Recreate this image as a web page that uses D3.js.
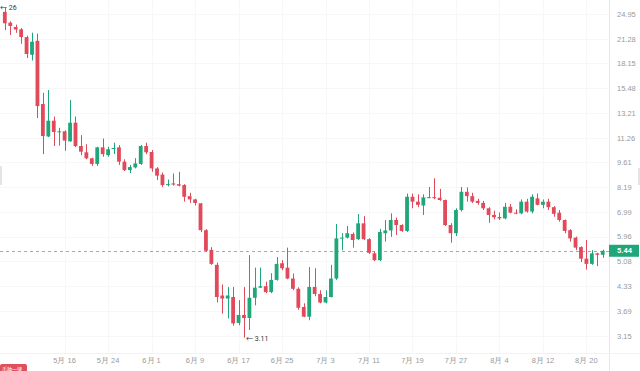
<!DOCTYPE html>
<html>
<head>
<meta charset="utf-8">
<script src="https://cdn.jsdelivr.net/npm/d3@7"></script>
<style>
  body { margin: 0; background: #fff; }
  svg { display: block; font-family: Roboto, "Noto Sans CJK SC", sans-serif; }
</style>
</head>
<body>
<script>
// width, height
var w = 640;
var h = 371;
var plotRight = 609;
var plotBottom = 353;

// daily candles, first one is May 5
var startDate = new Date(2024, 4, 5);
var open  = [25.3,23.6,22.95,22.6,21.5,19.2,21.0,13.98,11.35,12.56,11.68,11.73,11.0,12.4,10.67,10.25,9.86,9.51,10.58,10.06,
             10.47,10.58,9.65,9.14,9.3,9.51,10.67,10.27,9.24,8.88,8.3,8.39,8.35,8.3,7.73,7.57,7.38,6.21,5.47,4.97,
             4.08,4.0,4.04,3.42,3.6,3.53,4.02,4.29,4.33,4.17,4.51,5.02,4.88,4.55,4.26,3.79,3.56,4.31,4.12,3.9,
             4.04,4.55,5.89,5.92,6.06,5.86,6.49,5.86,5.35,5.12,6.09,6.2,6.63,6.42,6.18,7.7,7.46,7.28,7.65,7.68,
             7.65,7.54,6.42,6.09,7.07,7.95,7.73,7.5,7.4,7.15,6.85,6.76,6.7,7.22,6.95,6.92,7.46,7.0,7.62,7.31,
             7.46,7.2,6.95,6.63,6.21,5.92,5.57,5.17,5.0,5.35,5.3];
var high  = [26.0,23.8,23.3,22.8,21.7,22.12,22.0,15.03,15.3,12.9,12.0,11.8,14.35,12.9,11.45,10.8,9.9,10.62,11.2,10.62,
             10.9,10.73,9.8,9.45,9.87,10.73,10.9,10.4,9.32,9.0,8.6,8.94,9.04,8.35,7.9,7.6,7.4,6.25,5.57,5.04,
             4.38,4.31,4.31,3.96,4.31,5.29,4.88,4.88,4.46,4.71,5.22,5.12,5.55,4.7,4.3,3.88,4.9,4.86,4.22,4.22,
             4.97,6.46,6.09,6.38,6.12,6.89,6.8,5.9,5.42,6.26,6.63,6.92,6.74,6.45,7.86,7.86,7.82,7.82,8.2,8.67,
             8.1,7.56,6.5,7.15,8.2,8.18,7.9,7.6,7.5,7.2,7.04,6.96,7.4,7.35,7.1,7.57,7.6,7.82,7.86,7.57,
             7.6,7.25,7.07,6.65,6.25,5.96,5.6,5.83,5.46,5.37,5.48];
var low   = [22.5,21.8,22.1,20.6,18.8,18.5,12.78,10.13,11.3,10.67,10.7,10.35,10.97,10.6,10.06,9.8,9.39,9.39,9.96,9.96,
             10.13,9.45,9.08,8.97,9.24,9.45,10.13,9.04,8.57,8.2,8.23,8.27,8.23,7.46,7.4,7.28,6.13,5.4,4.97,3.9,
             3.63,3.52,3.36,3.37,3.11,3.27,3.83,4.28,4.14,4.14,4.49,4.8,4.53,4.22,3.72,3.55,3.48,4.06,3.88,3.88,
             4.03,4.51,5.46,5.89,5.55,5.83,5.83,5.33,5.09,5.09,5.77,5.95,6.02,6.14,6.14,7.15,7.2,6.85,7.63,7.58,
             7.5,6.38,5.73,5.98,7.0,7.46,7.4,7.31,7.07,6.51,6.66,6.63,6.66,6.92,6.88,6.88,6.95,6.92,7.28,7.15,
             7.07,6.77,6.56,6.09,5.77,5.46,5.06,4.82,4.97,4.93,5.2];
var close = [23.5,23.1,22.58,21.52,19.29,20.88,13.8,11.38,12.56,11.68,11.73,11.05,12.4,10.67,10.29,9.86,9.51,10.58,10.13,10.45,
             10.54,9.65,9.14,9.32,9.54,10.67,10.25,9.24,8.82,8.3,8.35,8.33,8.27,7.7,7.57,7.4,6.21,5.44,5.0,4.04,
             4.0,4.08,3.41,3.6,3.53,4.02,4.29,4.33,4.17,4.51,5.0,4.86,4.55,4.26,3.77,3.56,4.31,4.12,3.9,4.04,
             4.55,5.89,5.92,6.09,5.83,6.49,5.86,5.37,5.12,6.14,6.2,6.63,6.42,6.18,7.7,7.46,7.31,7.67,7.68,7.65,
             7.54,6.42,6.09,7.07,7.95,7.73,7.46,7.4,7.15,6.85,6.75,6.7,7.22,6.95,6.92,7.46,7.0,7.7,7.31,7.46,
             7.2,6.9,6.63,6.18,5.89,5.55,5.17,5.0,5.35,5.3,5.44];

var yTicks = [24.95, 21.28, 18.15, 15.48, 13.21, 11.26, 9.61, 8.19, 6.99, 5.96, 5.08, 4.33, 3.69, 3.15];
var xTickDays = [11, 19, 27, 35, 43, 51, 59, 67, 75, 83, 91, 99, 107];
var lastPrice = 5.44;
var highLabel = "26";
var lowLabel = "3.11";

var up = "#1fa67b";
var down = "#e04a5b";

var dates = open.map(function(d, i) { return d3.timeDay.offset(startDate, i); });

var svg = d3.select("body").append("svg")
            .attr("width", w)
            .attr("height", h);

/***Scales***/
var xScale = d3.scaleBand()
               .domain(dates)
               .range([1.3, 1.3 + dates.length * 5.45])
               .padding(0.3);
var yScale = d3.scaleLog()
               .domain([3.15, 24.95])
               .range([335.7, 14]);
var cx = function(i) { return xScale(dates[i]) + xScale.bandwidth() / 2; };

/***Grid***/
svg.append("g").selectAll("line")
   .data(yTicks).enter().append("line")
   .attr("x1", 0).attr("x2", plotRight)
   .attr("y1", function(d) { return Math.round(yScale(d)) + 0.5; })
   .attr("y2", function(d) { return Math.round(yScale(d)) + 0.5; })
   .attr("stroke", "#f7f7f7");
svg.append("g").selectAll("line")
   .data(xTickDays).enter().append("line")
   .attr("x1", function(d) { return Math.round(cx(d)) + 0.5; })
   .attr("x2", function(d) { return Math.round(cx(d)) + 0.5; })
   .attr("y1", 0).attr("y2", plotBottom)
   .attr("stroke", "#f7f7f7");

// border lines
svg.append("line").attr("x1", plotRight + 0.5).attr("x2", plotRight + 0.5)
   .attr("y1", 0).attr("y2", h).attr("stroke", "#e8e8e8");
svg.append("line").attr("x1", 0).attr("x2", w)
   .attr("y1", plotBottom + 0.5).attr("y2", plotBottom + 0.5).attr("stroke", "#f2f2f2");

/***Axes***/
var yAxis = d3.axisRight(yScale)
              .tickValues(yTicks)
              .tickFormat(function(d) { return d.toFixed(2); })
              .tickSize(0)
              .tickPadding(8);
var gy = svg.append("g")
   .attr("transform", "translate(" + plotRight + ",0)")
   .call(yAxis);
gy.select(".domain").remove();
gy.selectAll("text").attr("fill", "#9a9a9a").style("font-size", "7.5px");

var xAxis = d3.axisBottom(xScale)
              .tickValues(xTickDays.map(function(i) { return dates[i]; }))
              .tickFormat(function(d) { return (d.getMonth() + 1) + "月 " + d.getDate(); })
              .tickSize(0)
              .tickPadding(5);
var gx = svg.append("g")
   .attr("transform", "translate(0," + plotBottom + ")")
   .call(xAxis);
gx.select(".domain").remove();
gx.selectAll("text").attr("fill", "#9a9a9a").style("font-size", "7.5px");

/***Last price line***/
svg.append("line")
   .attr("x1", 0).attr("x2", plotRight)
   .attr("y1", Math.round(yScale(lastPrice)) + 0.5)
   .attr("y2", Math.round(yScale(lastPrice)) + 0.5)
   .attr("stroke", "#8fb5a6")
   .attr("stroke-dasharray", "3,3");

/***Candles***/
var idx = d3.range(dates.length);
var color = function(i) { return close[i] >= open[i] ? up : down; };
var candles = svg.append("g").selectAll("g")
   .data(idx).enter().append("g");
candles.append("line")
   .attr("x1", function(i) { return Math.round(cx(i)) + 0.5; })
   .attr("x2", function(i) { return Math.round(cx(i)) + 0.5; })
   .attr("y1", function(i) { return yScale(high[i]); })
   .attr("y2", function(i) { return yScale(low[i]); })
   .attr("stroke", color)
   .attr("stroke-width", 1);
candles.append("rect")
   .attr("x", function(i) { return cx(i) - xScale.bandwidth() / 2; })
   .attr("width", xScale.bandwidth())
   .attr("y", function(i) { return yScale(Math.max(open[i], close[i])); })
   .attr("height", function(i) {
     return Math.max(1, Math.abs(yScale(open[i]) - yScale(close[i])));
   })
   .attr("fill", color);

/***High / low markers***/
var hiIdx = high.indexOf(d3.max(high));
var loIdx = low.indexOf(d3.min(low));
svg.append("text")
   .attr("x", 0).attr("y", yScale(high[hiIdx]))
   .attr("dy", "0.35em")
   .attr("fill", "#333").style("font-size", "7px")
   .text("\u2190 " + highLabel);
svg.append("text")
   .attr("x", cx(loIdx) + 2).attr("y", yScale(low[loIdx]) + 1)
   .attr("dy", "0.35em")
   .attr("fill", "#333").style("font-size", "7px")
   .text("\u2190 " + lowLabel);

/***Last price tag***/
var ly = yScale(lastPrice);
svg.append("rect")
   .attr("x", plotRight).attr("y", ly - 6)
   .attr("width", 30).attr("height", 12)
   .attr("fill", up);
svg.append("text")
   .attr("x", plotRight + 8).attr("y", ly)
   .attr("dy", "0.35em")
   .attr("fill", "#fff").style("font-size", "7.5px").style("font-weight", "bold")
   .text(lastPrice.toFixed(2));

/***Scroll handles***/
svg.append("rect").attr("x", 0).attr("y", 166).attr("width", 2).attr("height", 19).attr("fill", "#e4e4e4");
svg.append("rect").attr("x", 638).attr("y", 168).attr("width", 2).attr("height", 17).attr("fill", "#e4e4e4");

/***Badge bottom left***/
svg.append("rect").attr("x", 0).attr("y", 364).attr("width", 27).attr("height", 9)
   .attr("rx", 2).attr("fill", "#e0505c");
svg.append("text").attr("x", 2).attr("y", 369).attr("dy", "0.35em")
   .attr("fill", "#fff").style("font-size", "5px")
   .text("币种一键");
</script>
</body>
</html>
